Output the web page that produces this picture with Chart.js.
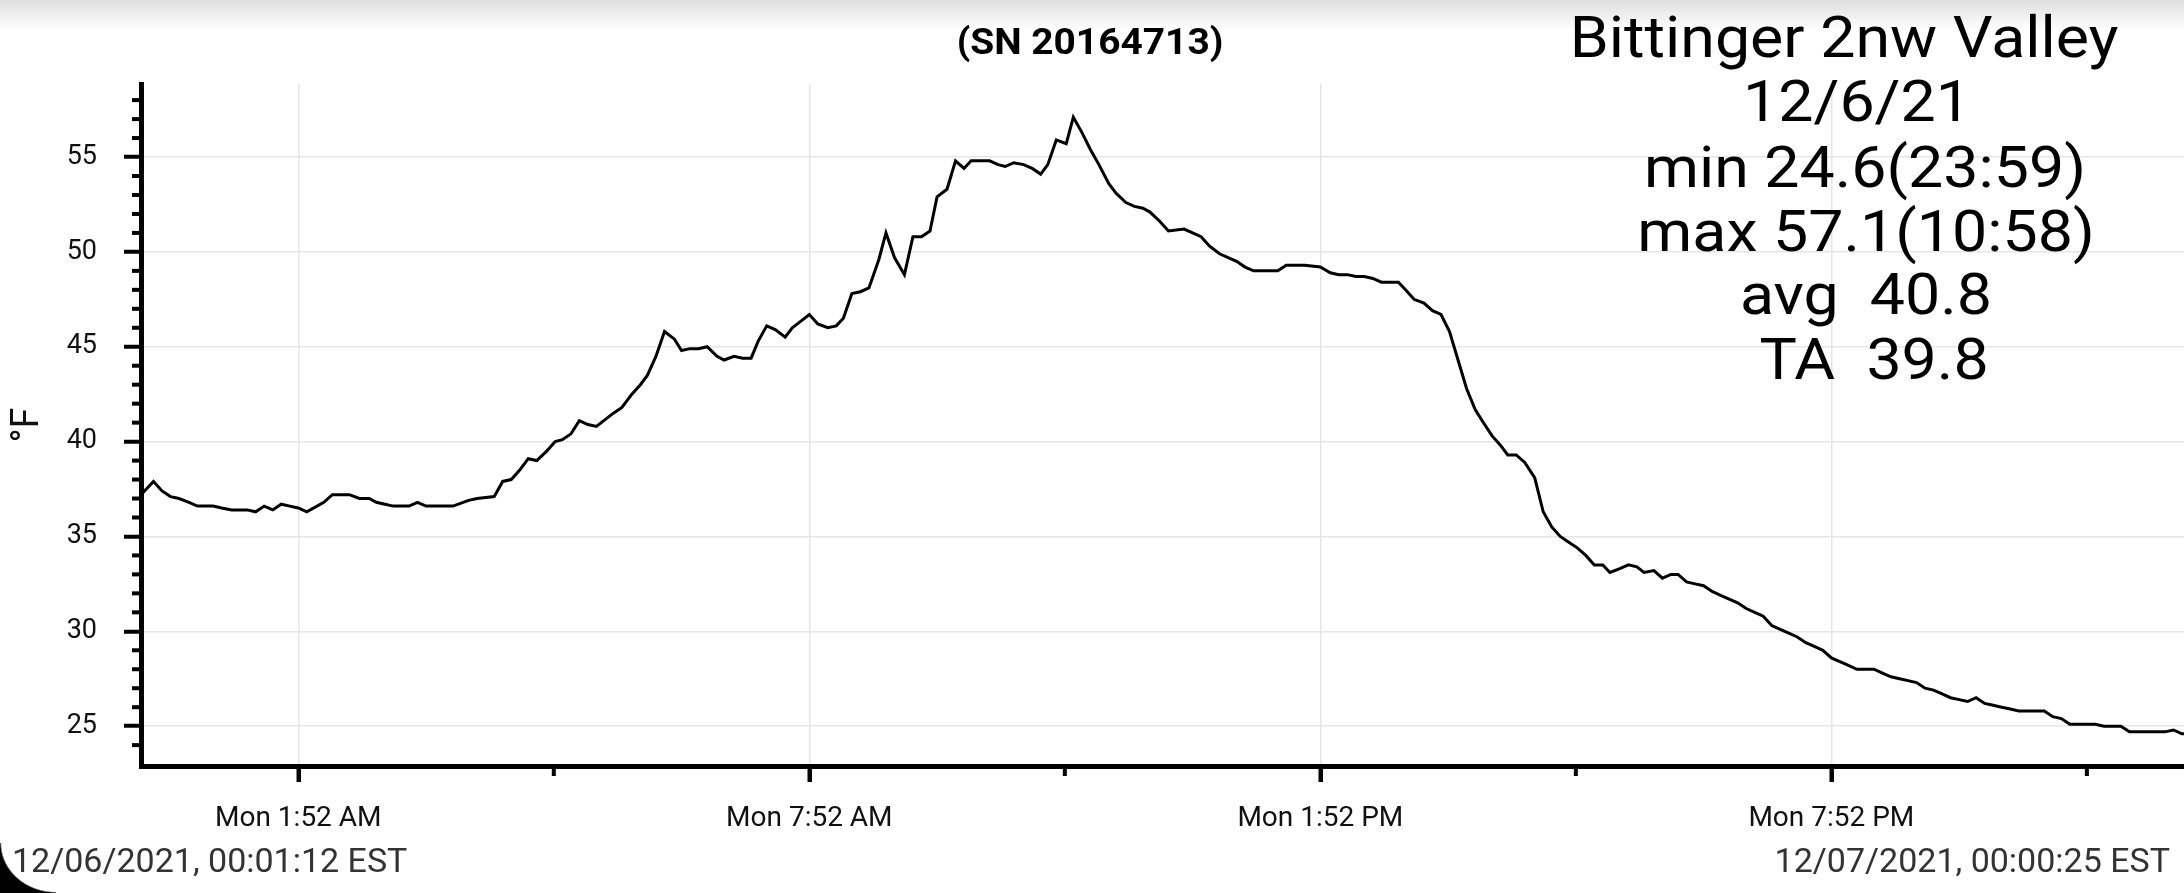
<!DOCTYPE html>
<html>
<head>
<meta charset="utf-8">
<title>Bittinger 2nw Valley 12/6/21</title>
<script src="https://cdn.jsdelivr.net/npm/chart.js@4.4.1/dist/chart.umd.min.js"></script>
<style>
  html, body { margin: 0; padding: 0; background: #fff; }
  #wrap { position: relative; width: 2184px; height: 893px; overflow: hidden; font-family: Roboto, sans-serif; }
  #chart { position: absolute; left: 0; top: 0; }
  .txt { position: absolute; white-space: pre; line-height: 1; color: #000; }
  #title { left: 1090px; top: 24px; font-size: 36px; font-weight: bold; transform: translateX(-50%) scaleX(1.08); }
  .info { font-size: 57px; line-height: 64.4px; transform: translateX(-50%) scaleX(1.1); }
  .stamp { top: 843px; font-size: 34px; color: #333; }
  #topShade { position: absolute; left: 0; top: 0; width: 100%; height: 30px;
    background: linear-gradient(rgba(0,0,0,0.13), rgba(0,0,0,0)); }
  #corner { position: absolute; left: 0; bottom: 0; width: 56px; height: 50px;
    background: radial-gradient(ellipse 56px 50px at 100% 0, rgba(0,0,0,0) 97%, #000 100%); }
</style>
</head>
<body>
<div id="wrap">
  <canvas id="chart" width="2184" height="893"></canvas>
  <div class="txt" id="title">(SN 20164713)</div>
  <div class="txt info" style="left:1844px; top:6px">Bittinger 2nw Valley</div>
  <div class="txt info" style="left:1857px; top:70px">12/6/21</div>
  <div class="txt info" style="left:1865px; top:136px">min 24.6(23:59)</div>
  <div class="txt info" style="left:1866px; top:200px">max 57.1(10:58)</div>
  <div class="txt info" style="left:1866px; top:263px">avg  40.8</div>
  <div class="txt info" style="left:1874px; top:328px">TA  39.8</div>
  <div class="txt stamp" style="left:12px">12/06/2021, 00:01:12 EST</div>
  <div class="txt stamp" style="right:14px">12/07/2021, 00:00:25 EST</div>
  <div id="topShade"></div>
  <div id="corner"></div>
</div>
<script>
// logger readings: minutes after midnight, 12/06/2021
const minutes = [
  1.2, 10, 16, 22, 28, 35, 41, 52, 58, 65, 71, 76, 82, 88, 94, 100, 106, 112, 118, 130,
  136, 148, 155, 162, 167, 173, 179, 190, 196, 202, 221, 232, 238, 250, 256, 262, 268, 274, 280, 287,
  293, 298, 304, 310, 316, 322, 334, 340, 347, 353, 358, 364, 370, 377, 382, 388, 394, 400, 407, 412,
  419, 425, 431, 436, 442, 448, 455, 460, 467, 472, 478, 485, 491, 496, 502, 508, 514, 521, 526, 532,
  539, 545, 551, 557, 562, 569, 575, 581, 586, 593, 599, 605, 610, 616, 623, 629, 635, 640, 646, 653,
  658, 664, 670, 676, 683, 688, 695, 701, 707, 712, 719, 725, 736, 742, 748, 754, 761, 767, 773, 779,
  785, 791, 802, 808, 814, 821, 832, 839, 845, 851, 857, 863, 869, 875, 887, 892, 898, 905, 911, 917,
  923, 929, 935, 941, 946, 953, 959, 964, 970, 976, 983, 989, 995, 1001, 1007, 1013, 1019, 1025, 1031, 1036,
  1043, 1049, 1055, 1060, 1067, 1073, 1079, 1084, 1090, 1096, 1102, 1108, 1114, 1120, 1126, 1132, 1138, 1144, 1150, 1156,
  1162, 1168, 1174, 1180, 1186, 1192, 1198, 1204, 1210, 1216, 1222, 1228, 1234, 1240, 1246, 1252, 1258, 1264, 1270, 1276,
  1282, 1288, 1294, 1300, 1306, 1312, 1318, 1324, 1342, 1348, 1354, 1360, 1378, 1384, 1396, 1402, 1427, 1433, 1439, 1440.4
]
// temperature, °F
const tempsF = [
  37.2, 37.9, 37.4, 37.1, 37.0, 36.8, 36.6, 36.6, 36.5, 36.4, 36.4, 36.4, 36.3, 36.6, 36.4, 36.7, 36.6, 36.5, 36.3, 36.8,
  37.2, 37.2, 37.0, 37.0, 36.8, 36.7, 36.6, 36.6, 36.8, 36.6, 36.6, 36.9, 37.0, 37.1, 37.9, 38.0, 38.5, 39.1, 39.0, 39.5,
  40.0, 40.1, 40.4, 41.1, 40.9, 40.8, 41.5, 41.8, 42.5, 43.0, 43.5, 44.5, 45.8, 45.4, 44.8, 44.9, 44.9, 45.0, 44.5, 44.3,
  44.5, 44.4, 44.4, 45.3, 46.1, 45.9, 45.5, 46.0, 46.4, 46.7, 46.2, 46.0, 46.1, 46.5, 47.8, 47.9, 48.1, 49.6, 51.0, 49.7,
  48.8, 50.8, 50.8, 51.1, 52.9, 53.3, 54.8, 54.4, 54.8, 54.8, 54.8, 54.6, 54.5, 54.7, 54.6, 54.4, 54.1, 54.6, 55.9, 55.7,
  57.1, 56.3, 55.4, 54.6, 53.6, 53.1, 52.6, 52.4, 52.3, 52.1, 51.6, 51.1, 51.2, 51.0, 50.8, 50.3, 49.9, 49.7, 49.5, 49.2,
  49.0, 49.0, 49.0, 49.3, 49.3, 49.3, 49.2, 48.9, 48.8, 48.8, 48.7, 48.7, 48.6, 48.4, 48.4, 48.0, 47.5, 47.3, 46.9, 46.7,
  45.8, 44.3, 42.8, 41.7, 41.1, 40.3, 39.8, 39.3, 39.3, 38.9, 38.1, 36.3, 35.5, 35.0, 34.7, 34.4, 34.0, 33.5, 33.5, 33.1,
  33.3, 33.5, 33.4, 33.1, 33.2, 32.8, 33.0, 33.0, 32.6, 32.5, 32.4, 32.1, 31.9, 31.7, 31.5, 31.2, 31.0, 30.8, 30.3, 30.1,
  29.9, 29.7, 29.4, 29.2, 29.0, 28.6, 28.4, 28.2, 28.0, 28.0, 28.0, 27.8, 27.6, 27.5, 27.4, 27.3, 27.0, 26.9, 26.7, 26.5,
  26.4, 26.3, 26.5, 26.2, 26.1, 26.0, 25.9, 25.8, 25.8, 25.5, 25.4, 25.1, 25.1, 25.0, 25.0, 24.7, 24.7, 24.8, 24.6, 24.6
]

const startMinute = 1.2   // 00:01:12
const endMinute = 1440.42 // 00:00:25 next day

const xTickMinutes = [112, 472, 832, 1192]
const xTickLabels = ['Mon 1:52 AM', 'Mon 7:52 AM', 'Mon 1:52 PM', 'Mon 7:52 PM']
const xMinorMinutes = [292, 652, 1012, 1372]
const yTickValues = [25, 30, 35, 40, 45, 50, 55]
const yMinorValues = [24, 26, 27, 28, 29, 31, 32, 33, 34, 36, 37, 38, 39, 41, 42, 43, 44, 46, 47, 48, 49, 51, 52, 53, 54, 56, 57, 58]

// short unlabelled ticks between the labelled ones
const minorTicks = {
  id: 'minorTicks',
  afterDraw (chart) {
    const { ctx, scales: { x, y } } = chart
    ctx.save()
    ctx.fillStyle = '#000'
    yMinorValues.forEach((v) => {
      const py = y.getPixelForValue(v)
      ctx.fillRect(y.right - 9, py - 2, 9, 4)
    })
    xMinorMinutes.forEach((m) => {
      const px = x.getPixelForValue(m)
      ctx.fillRect(px - 2, x.top, 4, 10)
    })
    ctx.restore()
  }
}

const points = minutes.map((m, i) => ({ x: m, y: tempsF[i] }))

const config = {
  type: 'line',
  data: {
    datasets: [{
      label: 'Temperature',
      data: points,
      borderColor: '#000',
      borderWidth: 3,
      pointRadius: 0,
      tension: 0,
      fill: false
    }]
  },
  options: {
    responsive: false,
    animation: false,
    layout: { padding: { top: 84, right: 0, bottom: 0, left: 0 } },
    plugins: {
      legend: { display: false },
      tooltip: { enabled: false }
    },
    scales: {
      x: {
        type: 'linear',
        min: startMinute,
        max: endMinute,
        afterBuildTicks: (scale) => { scale.ticks = xTickMinutes.map((v) => ({ value: v })) },
        afterFit: (scale) => { scale.height = 127 },
        ticks: {
          callback: (value, index) => xTickLabels[index],
          font: { family: 'Roboto', size: 28 },
          color: '#111',
          padding: 20,
          maxRotation: 0,
          autoSkip: false
        },
        grid: { color: '#e6e6e6', lineWidth: 1.5, tickColor: '#000', tickWidth: 4.5, tickLength: 16 },
        border: { display: true, color: '#000', width: 5 }
      },
      y: {
        min: 22.9,
        max: 58.85,
        afterBuildTicks: (scale) => { scale.ticks = yTickValues.map((v) => ({ value: v })) },
        afterFit: (scale) => { scale.width = 141 },
        title: {
          display: true,
          text: '°F',
          font: { family: 'Roboto', size: 38 },
          color: '#111',
          padding: { top: 6, bottom: 0 }
        },
        ticks: {
          font: { family: 'Roboto', size: 27 },
          color: '#111',
          padding: 27
        },
        grid: { color: '#e6e6e6', lineWidth: 1.5, tickColor: '#000', tickWidth: 4, tickLength: 17 },
        border: { display: true, color: '#000', width: 5 }
      }
    }
  },
  plugins: [minorTicks]
}

const tempChart = new Chart(document.querySelector('#chart'), config)
</script>
</body>
</html>
